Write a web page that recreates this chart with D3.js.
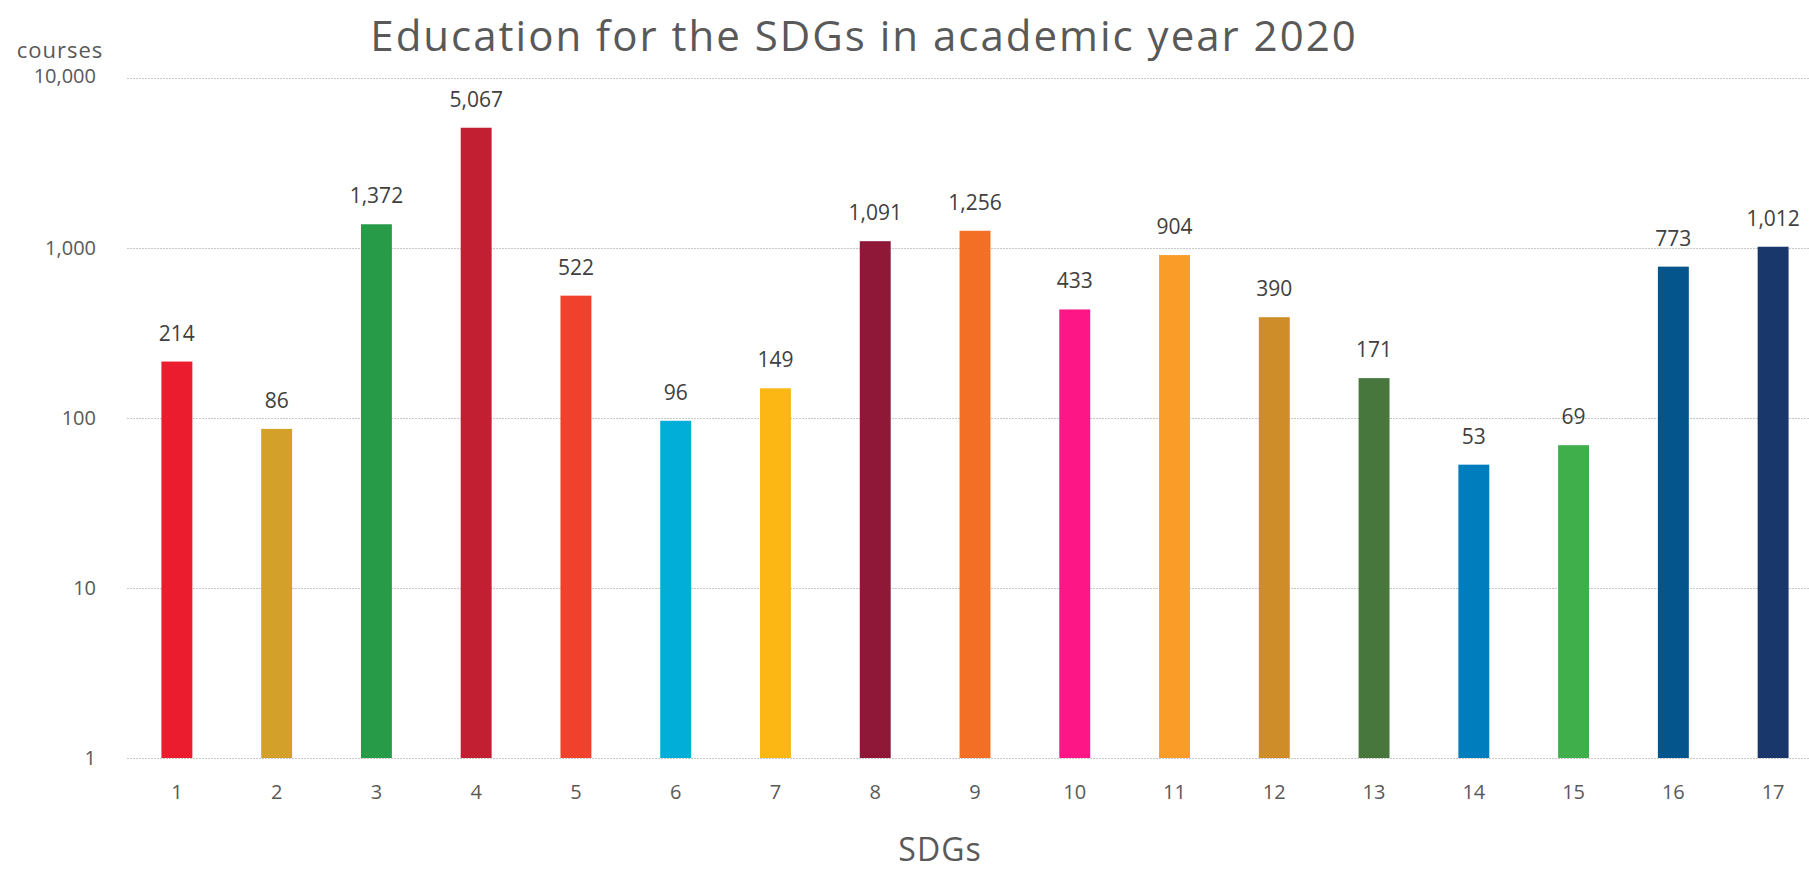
<!DOCTYPE html>
<html lang="en">
<head>
    <meta charset="UTF-8">
    <title>Education for the SDGs in academic year 2020</title>
    <script src="https://d3js.org/d3.v7.min.js"></script>
    <style>
        body { margin: 0; background: #fff; }
        svg text { font-family: "Open Sans", "Noto Sans", sans-serif; }
        .grid line { stroke: #c6c6c6; stroke-dasharray: 2,1; }
        .tick-label { font-size: 20px; fill: #595959; }
        .bar-label { font-size: 21px; fill: #404040; }
    </style>
</head>
<body>
    <script>
        const width = 1809;
        const height = 872;

        const sdgs = ["1", "2", "3", "4", "5", "6", "7", "8", "9", "10", "11", "12", "13", "14", "15", "16", "17"];
        const courses = [214, 86, 1372, 5067, 522, 96, 149, 1091, 1256, 433, 904, 390, 171, 53, 69, 773, 1012];
        const colors = ["#EB1C2D", "#D3A029", "#279B48", "#C31F33", "#EF412C", "#00AED8", "#FDB714", "#8F1838",
                        "#F36F26", "#FD1685", "#F99D28", "#CF8D2A", "#48773E", "#007DBC", "#3EAF4A", "#03558B", "#19376A"];
        const yTicks = [1, 10, 100, 1000, 10000];

        const svg = d3.select("body")
            .append("svg")
            .attr("width", width)
            .attr("height", height);

        const x = d3.scaleBand()
            .domain(sdgs)
            .range([127, 1823])
            .paddingInner(0.69)
            .paddingOuter(0.345);

        const y = d3.scaleLog()
            .domain([1, 10000])
            .range([758, 77.5]);

        const fmt = d3.format(",");

        // gridlines
        svg.append("g")
            .attr("class", "grid")
            .selectAll("line")
            .data(yTicks)
            .join("line")
            .attr("x1", 127)
            .attr("x2", 1823)
            .attr("y1", d => Math.round(y(d)) + 0.5)
            .attr("y2", d => Math.round(y(d)) + 0.5);

        // y tick labels
        svg.append("g")
            .selectAll("text")
            .data(yTicks)
            .join("text")
            .attr("class", "tick-label")
            .attr("x", 96)
            .attr("y", d => y(d))
            .attr("dy", d => d === 10000 ? "0.25em" : "0.35em")
            .attr("text-anchor", "end")
            .text(d => fmt(d));

        svg.append("text")
            .attr("x", 60)
            .attr("y", 58)
            .attr("text-anchor", "middle")
            .style("font-size", "22px")
            .style("letter-spacing", "1px")
            .style("fill", "#595959")
            .text("courses");

        // bars
        svg.append("g")
            .selectAll("rect")
            .data(courses)
            .join("rect")
            .attr("x", (d, i) => x(sdgs[i]))
            .attr("width", x.bandwidth())
            .attr("y", d => y(d))
            .attr("height", d => y(1) - y(d))
            .style("fill", (d, i) => colors[i]);

        // data labels
        svg.append("g")
            .selectAll("text")
            .data(courses)
            .join("text")
            .attr("class", "bar-label")
            .attr("x", (d, i) => x(sdgs[i]) + x.bandwidth() / 2)
            .attr("y", d => y(d) - 21)
            .attr("text-anchor", "middle")
            .text(d => fmt(d));

        // x tick labels
        svg.append("g")
            .selectAll("text")
            .data(sdgs)
            .join("text")
            .attr("class", "tick-label")
            .attr("x", d => x(d) + x.bandwidth() / 2)
            .attr("y", 799)
            .attr("text-anchor", "middle")
            .text(d => d);

        // axis title
        svg.append("text")
            .attr("x", 940)
            .attr("y", 861)
            .attr("text-anchor", "middle")
            .style("font-size", "32px")
            .style("letter-spacing", "1px")
            .style("fill", "#595959")
            .text("SDGs");

        // chart title
        svg.append("text")
            .attr("x", 864)
            .attr("y", 51)
            .attr("text-anchor", "middle")
            .style("font-size", "42px")
            .style("letter-spacing", "2px")
            .style("fill", "#595959")
            .text("Education for the SDGs in academic year 2020");
    </script>
</body>
</html>
